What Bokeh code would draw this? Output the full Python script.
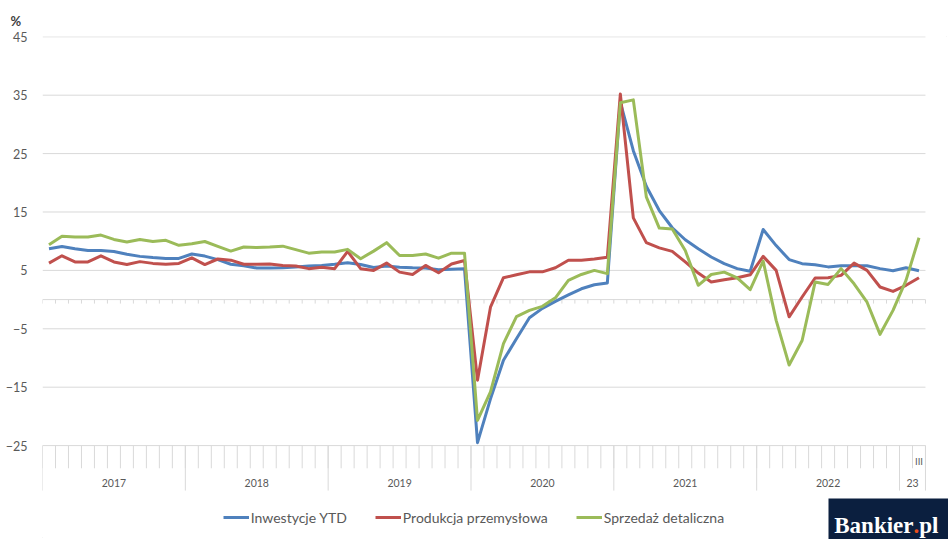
from bokeh.plotting import figure
from bokeh.models import Range1d, FixedTicker, Legend, LegendItem
from bokeh.embed import file_html
from bokeh.resources import INLINE
from bokeh.core.properties import value

# ---------------- data ----------------
years = ["2017", "2018", "2019", "2020", "2021", "2022", "23"]
months_full = ["II", "III", "IV", "V", "VI", "VII", "VIII", "IX", "X", "XI", "XII"]
months_2023 = ["II", "III"]
shown_month_labels = ["III"]          # only the last month label is visible
y_ticks = [-25, -15, -5, 5, 15, 25, 35, 45]

inwestycje = [8.7, 9.1, 8.7, 8.4, 8.4, 8.25, 7.75, 7.4, 7.2, 7.05, 7.05,
              7.8, 7.45, 6.85, 6.05, 5.8, 5.4, 5.4, 5.45, 5.6, 5.75, 5.85,
              6.05, 6.3, 6.0, 5.5, 5.75, 5.55, 5.45, 5.4, 5.1, 5.2, 5.3,
              -24.5, -17.0, -10.4, -6.7, -3.1, -1.5, -0.3, 0.8, 1.85, 2.55, 2.85,
              33.8, 25.5, 19.4, 15.25, 12.3, 10.25, 8.7, 7.3, 6.15, 5.3, 4.85,
              12.0, 9.25, 6.85, 6.15, 5.95, 5.6, 5.8, 5.8, 5.8, 5.3, 4.95,
              5.45, 4.95]
produkcja = [6.25, 7.5, 6.45, 6.45, 7.5, 6.45, 6.0, 6.5, 6.2, 6.05, 6.2,
             7.15, 6.0, 6.95, 6.75, 6.05, 6.05, 6.1, 5.85, 5.75, 5.3, 5.55,
             5.3, 8.25, 5.3, 5.0, 6.25, 4.7, 4.3, 5.85, 4.6, 6.1, 6.7,
             -13.8, -1.3, 3.75, 4.25, 4.75, 4.75, 5.45, 6.75, 6.75, 6.95, 7.25,
             35.2, 14.0, 9.75, 8.85, 8.25, 6.45, 4.55, 3.0, 3.4, 3.75, 4.25,
             7.4, 5.0, -2.95, 0.45, 3.7, 3.75, 4.15, 6.25, 5.0, 2.15, 1.4,
             2.45, 3.75]
sprzedaz = [9.4, 10.85, 10.7, 10.7, 11.05, 10.3, 9.85, 10.3, 9.95, 10.15, 9.3,
            9.55, 9.95, 9.1, 8.3, 9.0, 8.9, 9.0, 9.15, 8.55, 7.95, 8.15,
            8.15, 8.6, 7.0, 8.3, 9.75, 7.55, 7.55, 7.8, 7.1, 7.95, 7.95,
            -20.7, -15.8, -7.55, -2.9, -1.85, -1.15, 0.3, 3.3, 4.3, 5.0, 4.45,
            33.7, 34.2, 17.6, 12.25, 12.1, 8.4, 2.45, 4.3, 4.7, 3.7, 1.7,
            6.6, -3.55, -11.2, -7.0, 3.0, 2.6, 5.3, 2.7, -0.45, -5.95, -1.85,
            3.3, 10.6]

series_names = ["Inwestycje YTD", "Produkcja przemysłowa", "Sprzedaż detaliczna"]
series_colors = ["#4F81BD", "#C0504D", "#9BBB59"]

# ---------------- categories ----------------
categories = []
for y in years:
    ms = months_2023 if y == "23" else months_full
    for m in ms:
        categories.append((y, m))
n = len(categories)
xs = [i + 0.5 for i in range(n)]
boundaries = list(range(n + 1))
year_bounds = [0]
for y in years:
    year_bounds.append(year_bounds[-1] + sum(1 for c in categories if c[0] == y))
year_centers = [(a + b) / 2 for a, b in zip(year_bounds[:-1], year_bounds[1:])]
label_x = [i + 0.5 for i, c in enumerate(categories) if c[1] in shown_month_labels and i == n - 1]
label_t = [c[1] for i, c in enumerate(categories) if c[1] in shown_month_labels and i == n - 1]

# ---------------- figure ----------------
PX_PER_CAT = 12.985
PX_PER_UNIT = 5.84
W, H = 948, 539
LEFT, TOP = 42, 36
x_end = (W - LEFT) / PX_PER_CAT
y_end = 45.05
y_start = y_end - (H - TOP) / PX_PER_UNIT

p = figure(width=W, height=H, x_range=Range1d(0, x_end), y_range=Range1d(y_start, y_end),
           output_backend="svg", toolbar_location=None, x_axis_location=None,
           min_border_left=LEFT, min_border_right=0, min_border_top=TOP, min_border_bottom=0,
           title="%")
p.grid.visible = False
p.outline_line_color = None
p.background_fill_color = "white"
p.border_fill_color = "white"
p.styles = {"outline": "1px solid #d9d9d9", "outline-offset": "-2px"}

p.title.align = "left"
p.title.offset = -32
p.title.standoff = 15
p.title.text_font = "Lato"
p.title.text_font_size = "13px"
p.title.text_font_style = "bold"
p.title.text_color = "#404040"

ax = p.yaxis[0]
ax.ticker = FixedTicker(ticks=y_ticks)
ax.axis_line_color = None
ax.major_tick_line_color = None
ax.minor_tick_line_color = None
ax.major_tick_out = 0
ax.major_tick_in = 0
ax.major_label_standoff = 15
ax.major_label_text_font = "Lato"
ax.major_label_text_font_size = "12.5px"
ax.major_label_text_color = "#595959"

GRID = "#d9d9d9"
# horizontal gridlines
p.segment(x0=[0] * len(y_ticks), x1=[n] * len(y_ticks), y0=y_ticks, y1=y_ticks,
          line_color=GRID, line_width=1)
# zero axis line with small ticks
p.segment(x0=[0], x1=[n], y0=[0], y1=[0], line_color=GRID, line_width=1)
p.segment(x0=boundaries, x1=boundaries, y0=[0] * len(boundaries),
          y1=[-4 / PX_PER_UNIT] * len(boundaries), line_color=GRID, line_width=1)
# category axis at the bottom
p.segment(x0=boundaries, x1=boundaries, y0=[-25] * len(boundaries),
          y1=[-25 - 22.7 / PX_PER_UNIT] * len(boundaries), line_color=GRID, line_width=1)
p.segment(x0=year_bounds, x1=year_bounds, y0=[-25] * len(year_bounds),
          y1=[-25 - 45 / PX_PER_UNIT] * len(year_bounds), line_color=GRID, line_width=1)
p.text(x=year_centers, y=[-25 - 37 / PX_PER_UNIT] * len(year_centers), text=years,
       text_align="center", text_baseline="middle", text_font=value("Lato"),
       text_font_size="10.5px", text_color="#595959")
p.text(x=label_x, y=[-25 - 16 / PX_PER_UNIT] * len(label_x), text=label_t,
       text_align="center", text_baseline="middle", text_font=value("Lato"),
       text_font_size="9.5px", text_color="#595959")

# series
renderers = []
for vals, col in zip([inwestycje, produkcja, sprzedaz], series_colors):
    r = p.line(xs, vals, line_color=col, line_width=3, line_join="round")
    renderers.append(r)

legend = Legend(items=[LegendItem(label=nm, renderers=[r]) for nm, r in zip(series_names, renderers)],
                orientation="horizontal", location=(180.7, 11.7), padding=0, spacing=28,
                glyph_width=26, glyph_height=20, label_height=20, label_standoff=2,
                label_text_font="Lato", label_text_font_size="14px",
                label_text_color="#595959", border_line_color=None,
                background_fill_alpha=0)
p.add_layout(legend)

# Bankier.pl logo
def fx(px):
    return (px - LEFT) / PX_PER_CAT

def fy(py):
    return y_end - (py - TOP) / PX_PER_UNIT

p.quad(left=[fx(828)], right=[x_end], top=[fy(498)], bottom=[y_start],
       fill_color="#0b1f3f", line_color=None)
base = fy(525)
p.text(x=[fx(913)], y=[base], text=["Bankier"], text_align="right", text_baseline="alphabetic",
       text_font=value("Liberation Serif"), text_font_style="bold", text_font_size="23px",
       text_color="white")
p.text(x=[fx(913)], y=[base], text=["."], text_align="left", text_baseline="alphabetic",
       text_font=value("Liberation Serif"), text_font_style="bold", text_font_size="23px",
       text_color="#e94e1b")
p.text(x=[fx(918.8)], y=[base], text=["pl"], text_align="left", text_baseline="alphabetic",
       text_font=value("Liberation Serif"), text_font_style="bold", text_font_size="23px",
       text_color="white")

open("out.html", "w").write(file_html(p, INLINE))
